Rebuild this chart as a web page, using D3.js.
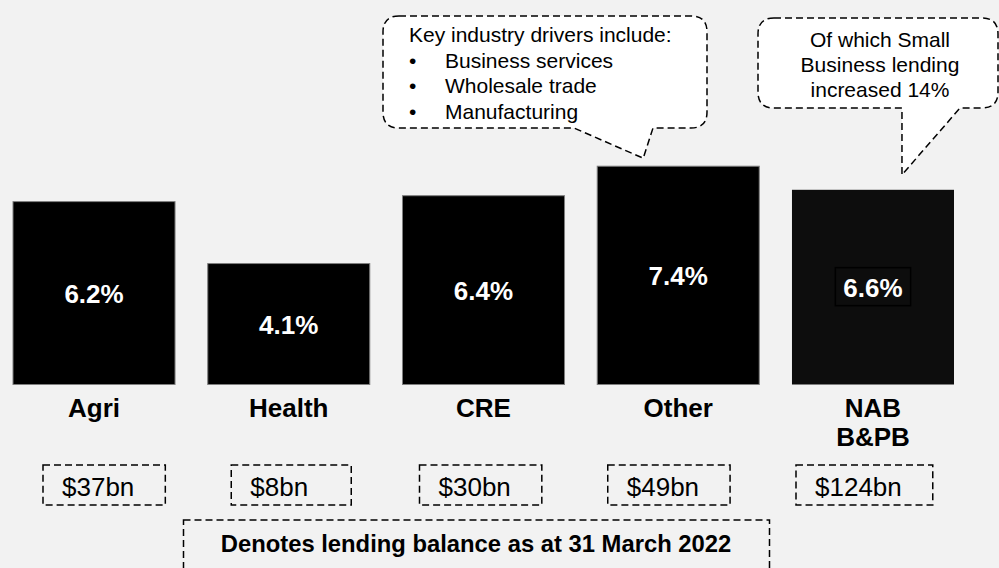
<!DOCTYPE html>
<html>
<head>
<meta charset="utf-8">
<script src="https://cdn.jsdelivr.net/npm/d3@7"></script>
<style>
  body { margin: 0; background: #f2f2f2; }
  svg { display: block; font-family: "Liberation Sans", Arial, Helvetica, sans-serif; }
</style>
</head>
<body>
<div id="chart"></div>
<script>
// lending growth by segment
const categories = ['Agri', 'Health', 'CRE', 'Other', 'NAB B&PB'];
const growth = [6.2, 4.1, 6.4, 7.4, 6.6];
const balances = ['$37bn', '$8bn', '$30bn', '$49bn', '$124bn'];
const categoryLines = [['Agri'], ['Health'], ['CRE'], ['Other'], ['NAB', 'B&PB']];

const driversTitle = 'Key industry drivers include:';
const drivers = ['Business services', 'Wholesale trade', 'Manufacturing'];
const smallBizNote = ['Of which Small', 'Business lending', 'increased 14%'];
const footnote = 'Denotes lending balance as at 31 March 2022';

let width = 999, height = 568;

let svg = d3.select('#chart')
    .append('svg')
        .attr('width', width)
        .attr('height', height);

svg.append('rect')
    .attr('width', width)
    .attr('height', height)
    .attr('fill', '#f2f2f2');

let x = d3.scaleBand()
    .domain(categories)
    .range([13, 954])
    .paddingInner(0.168)
    .paddingOuter(0);

// balance boxes sit on a slightly tighter spacing than the bars
let xBal = d3.scalePoint()
    .domain(categories)
    .range([43, 796]);

let y = d3.scaleLinear()
    .domain([0, 10])
    .range([384.5, 89.5]);

let data = categories.map(function(c, i) {
    return { cat: c, value: growth[i], balance: balances[i], lines: categoryLines[i] };
});

let dash = '7,4';

// bars
svg.selectAll('.bar')
    .data(data)
    .enter()
    .append('rect')
        .attr('class', 'bar')
        .attr('x', d => x(d.cat))
        .attr('y', d => y(d.value))
        .attr('width', x.bandwidth())
        .attr('height', d => y(0) - y(d.value))
        .attr('fill', (d, i) => i === 4 ? '#0d0d0d' : '#000')
        .attr('stroke', (d, i) => i === 4 ? 'none' : '#7f7f7f')
        .attr('stroke-width', 1);

// value labels in bars
let pct = svg.selectAll('.pct')
    .data(data)
    .enter()
    .append('text')
        .attr('class', 'pct')
        .attr('x', d => x(d.cat) + x.bandwidth() / 2)
        .attr('y', d => (y(d.value) + y(0)) / 2 + 9.5)
        .attr('text-anchor', 'middle')
        .attr('fill', '#fff')
        .style('font-size', '26px')
        .style('font-weight', 'bold')
        .text(d => d.value.toFixed(1) + '%');

// box around NAB label
pct.filter((d, i) => i === 4).each(function() {
    let b = this.getBBox();
    svg.insert('rect', '.pct')
        .attr('x', b.x - 8)
        .attr('y', b.y - 5)
        .attr('width', b.width + 16)
        .attr('height', b.height + 8)
        .attr('fill', '#0d0d0d')
        .attr('stroke', '#000')
        .attr('stroke-width', 1.5);
});

// category labels
svg.selectAll('.cat')
    .data(data)
    .enter()
    .append('text')
        .attr('class', 'cat')
        .attr('text-anchor', 'middle')
        .attr('fill', '#000')
        .style('font-size', '26px')
        .style('font-weight', 'bold')
    .selectAll('tspan')
    .data(d => d.lines.map(l => ({ l: l, cx: x(d.cat) + x.bandwidth() / 2 })))
    .enter()
    .append('tspan')
        .attr('x', d => d.cx)
        .attr('y', (d, i) => 417 + i * 28.5)
        .text(d => d.l);

// balance boxes
let bal = svg.selectAll('.bal')
    .data(data)
    .enter()
    .append('g')
        .attr('class', 'bal');

bal.append('text')
    .attr('x', d => xBal(d.cat) + 19)
    .attr('y', 496)
    .attr('fill', '#000')
    .style('font-size', '26px')
    .text(d => d.balance)
    .each(function(d) { d.bbox = this.getBBox(); });

bal.insert('rect', 'text')
    .attr('x', d => xBal(d.cat))
    .attr('y', 465)
    .attr('width', d => Math.max(120, d.bbox.width + 50))
    .attr('height', 40)
    .attr('fill', 'none')
    .attr('stroke', '#000')
    .attr('stroke-width', 1.5)
    .attr('stroke-dasharray', dash);

// footnote box
svg.append('rect')
    .attr('x', 183.5)
    .attr('y', 520)
    .attr('width', 586)
    .attr('height', 60)
    .attr('fill', 'none')
    .attr('stroke', '#000')
    .attr('stroke-width', 1.5)
    .attr('stroke-dasharray', dash);

svg.append('text')
    .attr('x', 476)
    .attr('y', 552)
    .attr('text-anchor', 'middle')
    .style('font-size', '23.8px')
    .style('font-weight', 'bold')
    .text(footnote);

// callouts
function callout(x0, y0, x1, y1, r, tb0, tb1, tx, ty) {
    return 'M' + (x0 + r) + ',' + y0 + 'H' + (x1 - r) +
        'Q' + x1 + ',' + y0 + ' ' + x1 + ',' + (y0 + r) +
        'V' + (y1 - r) + 'Q' + x1 + ',' + y1 + ' ' + (x1 - r) + ',' + y1 +
        'H' + tb1 + 'L' + tx + ',' + ty + 'L' + tb0 + ',' + y1 +
        'H' + (x0 + r) + 'Q' + x0 + ',' + y1 + ' ' + x0 + ',' + (y1 - r) +
        'V' + (y0 + r) + 'Q' + x0 + ',' + y0 + ' ' + (x0 + r) + ',' + y0 + 'Z';
}

let tip1x = x('Other') + 46, tip1y = y(7.4) - 8;
svg.append('path')
    .attr('d', callout(383, 16, 707, 128, 16, 574, 653, tip1x, tip1y))
    .attr('fill', '#fff')
    .attr('stroke', '#000')
    .attr('stroke-width', 1.5)
    .attr('stroke-dasharray', dash);

svg.append('text')
    .attr('x', 409)
    .attr('y', 41.5)
    .style('font-size', '21px')
    .text(driversTitle);

drivers.forEach(function(t, i) {
    svg.append('text')
        .attr('x', 409)
        .attr('y', 67.5 + i * 25.5)
        .style('font-size', '21px')
        .text('\u2022');
    svg.append('text')
        .attr('x', 445)
        .attr('y', 67.5 + i * 25.5)
        .style('font-size', '21px')
        .text(t);
});

let tip2x = x('NAB B&PB') + 110, tip2y = y(6.6) - 15;
svg.append('path')
    .attr('d', callout(758, 18, 998, 108, 16, tip2x, 960, tip2x, tip2y))
    .attr('fill', '#fff')
    .attr('stroke', '#000')
    .attr('stroke-width', 1.5)
    .attr('stroke-dasharray', dash);

smallBizNote.forEach(function(t, i) {
    svg.append('text')
        .attr('x', 880)
        .attr('y', 46.5 + i * 25)
        .attr('text-anchor', 'middle')
        .style('font-size', '21px')
        .text(t);
});
</script>
</body>
</html>
